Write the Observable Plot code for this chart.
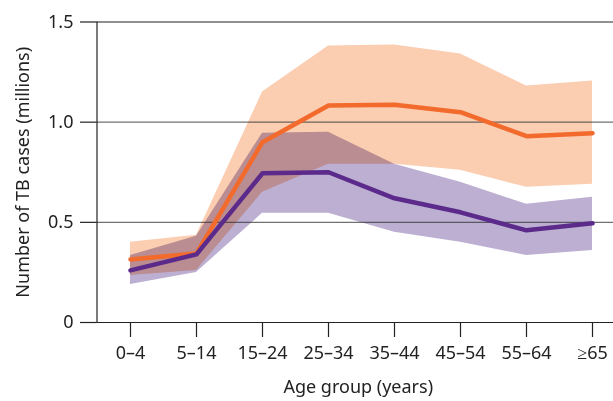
<!DOCTYPE html>
<html><head><meta charset="utf-8">
<script src="https://cdn.jsdelivr.net/npm/d3@7"></script>
<script src="https://cdn.jsdelivr.net/npm/@observablehq/plot@0.6"></script>
<style>body{margin:0;background:#fff}</style>
</head><body><div id="chart"></div>
<script>
const ages = ["0–4","5–14","15–24","25–34","35–44","45–54","55–64","≥65"];
const orangeMed = [0.315,0.345,0.90,1.083,1.087,1.05,0.93,0.945];
const orangeHi  = [0.40,0.435,1.15,1.38,1.385,1.34,1.18,1.205];
const orangeLo  = [0.235,0.26,0.65,0.79,0.79,0.76,0.675,0.69];
const purpleMed = [0.26,0.34,0.745,0.75,0.62,0.55,0.46,0.495];
const purpleHi  = [0.335,0.43,0.945,0.95,0.79,0.70,0.59,0.625];
const purpleLo  = [0.19,0.25,0.545,0.545,0.45,0.40,0.335,0.36];
const yTicks = [0,0.5,1.0,1.5];
const yLabel = "Number of TB cases (millions)";
const xLabel = "Age group (years)";

const data = ages.map((a,i)=>({age:a, oMed:orangeMed[i], oHi:orangeHi[i], oLo:orangeLo[i], pMed:purpleMed[i], pHi:purpleHi[i], pLo:purpleLo[i]}));

const plot = Plot.plot({
  width:613, height:401,
  marginLeft:96.5, marginRight:0, marginTop:21.5, marginBottom:79,
  style:{fontFamily:"Noto Sans", fontSize:"18px", color:"#222", background:"#fff", overflow:"visible"},
  x:{type:"point", domain:ages, range:[129.5,593], padding:0},
  y:{domain:[0,1.5]},
  marks:[
    Plot.areaY(data,{x:"age", y1:"oLo", y2:"oHi", fill:"#fbcdb1"}),
    Plot.areaY(data,{x:"age", y1:"pLo", y2:"pHi", fill:"#bcafd2", mixBlendMode:"multiply"}),
    Plot.ruleY([0.5,1.0],{stroke:"#333", strokeOpacity:0.7, strokeWidth:1.2}),
    Plot.ruleY([0,1.5],{stroke:"#222", strokeWidth:1.2}),
    Plot.frame({anchor:"left", stroke:"#222", strokeWidth:1.2}),
    Plot.lineY(data,{x:"age", y:"oMed", stroke:"#f26a2c", strokeWidth:4.5, strokeLinecap:"round"}),
    Plot.lineY(data,{x:"age", y:"pMed", stroke:"#5b2a8a", strokeWidth:4.5, strokeLinecap:"round"}),
    Plot.axisY({ticks:yTicks, tickFormat:d=> d===0 ? "0" : d.toFixed(1), tickSize:16.5, tickPadding:7, label:null, stroke:"#222", strokeWidth:1.2}),
    Plot.axisX({tickSize:15, tickPadding:9, label:null, stroke:"#222", strokeWidth:1.2}),
    Plot.text([yLabel],{frameAnchor:"left", textAnchor:"middle", rotate:-90, dx:-74, text:d=>d, fill:"#222"}),
    Plot.text([xLabel],{frameAnchor:"bottom", dy:70, dx:3, text:d=>d, fill:"#222"})
  ]
});
document.getElementById("chart").appendChild(plot);
</script></body></html>
